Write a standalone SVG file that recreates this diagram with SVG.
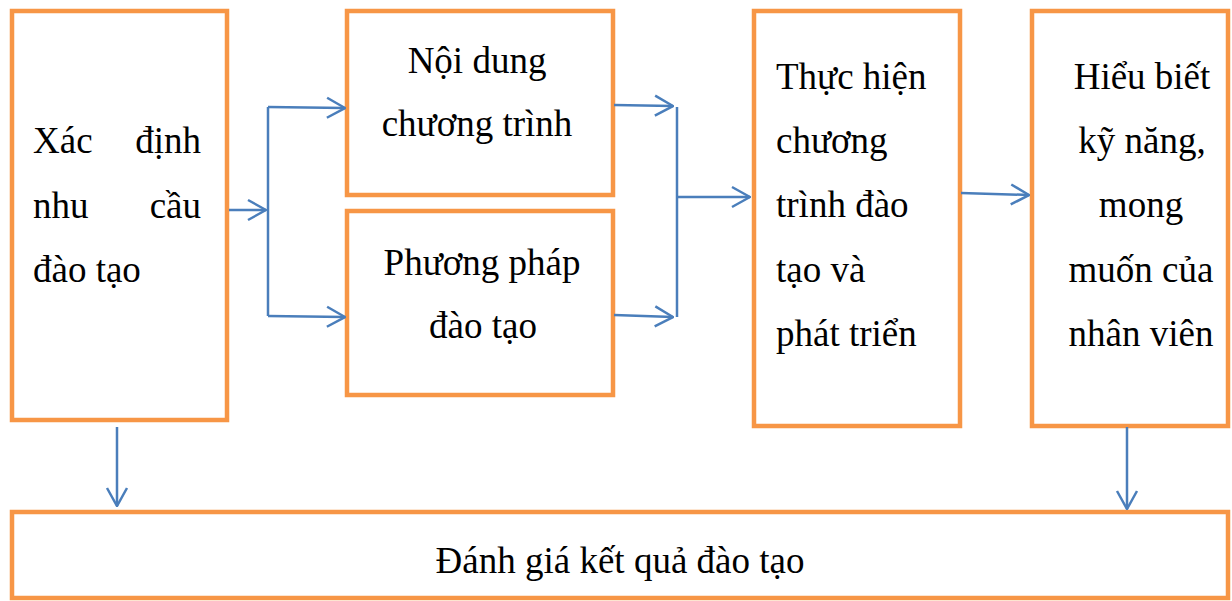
<svg xmlns="http://www.w3.org/2000/svg" width="1232" height="601" viewBox="0 0 1232 601">
<style>
.box{fill:#fff;stroke:#f79646;stroke-width:4.5}
.t{font-family:"Liberation Serif","Times New Roman",serif;font-size:37px;fill:#000}
.c{fill:none;stroke:#4a7ebb;stroke-width:2.5}
</style>
<defs>
<marker id="ah" viewBox="0 0 20 24" refX="19" refY="12" markerWidth="20" markerHeight="24" markerUnits="userSpaceOnUse" orient="auto">
<path d="M1,2 L19,12 L1,22" fill="none" stroke="#4a7ebb" stroke-width="2.5"/>
</marker>
</defs>
<rect width="1232" height="601" fill="#fff"/>
<g id="n1"><rect class="box" x="12" y="11" width="215" height="409"/>
<text class="t" x="33" y="153">Xác</text><text class="t" x="201" y="153" text-anchor="end">định</text>
<text class="t" x="33" y="218">nhu</text><text class="t" x="201" y="218" text-anchor="end">cầu</text>
<text class="t" x="33" y="282">đào tạo</text></g>
<g id="n2"><rect class="box" x="347" y="11" width="266" height="184"/>
<text class="t" x="477" y="73" text-anchor="middle">Nội dung</text>
<text class="t" x="477" y="136" text-anchor="middle">chương trình</text></g>
<g id="n3"><rect class="box" x="347" y="211" width="266" height="184"/>
<text class="t" x="482" y="275" text-anchor="middle">Phương pháp</text>
<text class="t" x="483" y="338" text-anchor="middle">đào tạo</text></g>
<g id="n4"><rect class="box" x="754" y="11" width="206" height="415"/>
<text class="t" x="776" y="89">Thực hiện</text>
<text class="t" x="776" y="153">chương</text>
<text class="t" x="776" y="217">trình đào</text>
<text class="t" x="776" y="282">tạo và</text>
<text class="t" x="776" y="346">phát triển</text></g>
<g id="n5"><rect class="box" x="1032" y="11" width="196" height="415"/>
<text class="t" x="1142" y="89" text-anchor="middle">Hiểu biết</text>
<text class="t" x="1142" y="153" text-anchor="middle">kỹ năng,</text>
<text class="t" x="1141" y="217" text-anchor="middle">mong</text>
<text class="t" x="1141" y="282" text-anchor="middle">muốn của</text>
<text class="t" x="1141" y="346" text-anchor="middle">nhân viên</text></g>
<g id="n6"><rect class="box" x="12" y="512" width="1216" height="86"/>
<text class="t" x="620" y="573" text-anchor="middle">Đánh giá kết quả đào tạo</text></g>
<g id="connectors">
<path class="c" d="M229,210 L266,210" marker-end="url(#ah)"/>
<path class="c" d="M268,107 L268,316"/>
<path class="c" d="M268,107 L345,108" marker-end="url(#ah)"/>
<path class="c" d="M268,316 L345,317" marker-end="url(#ah)"/>
<path class="c" d="M614,105 L673,106" marker-end="url(#ah)"/>
<path class="c" d="M614,315 L673,317" marker-end="url(#ah)"/>
<path class="c" d="M677,107 L677,317"/>
<path class="c" d="M677,197 L750,197" marker-end="url(#ah)"/>
<path class="c" d="M961,193 L1029,195" marker-end="url(#ah)"/>
<path class="c" d="M117,427 L117,506" marker-end="url(#ah)"/>
<path class="c" d="M1127,427 L1127,509" marker-end="url(#ah)"/>
</g>
</svg>
